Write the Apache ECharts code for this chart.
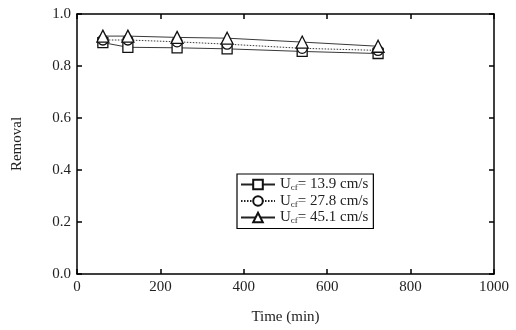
<!DOCTYPE html>
<html><head><meta charset="utf-8">
<script src="https://cdn.jsdelivr.net/npm/echarts@6/dist/echarts.min.js"></script>
<style>html,body{margin:0;padding:0;background:#fff}#c{width:516px;height:330px}</style>
</head><body><div id="c"></div>
<script>
const time = [62, 122, 240, 360, 540, 722];
const u139 = [0.89, 0.872, 0.870, 0.866, 0.856, 0.848];
const u278 = [0.900, 0.900, 0.893, 0.884, 0.868, 0.860];
const u451 = [0.915, 0.915, 0.910, 0.907, 0.892, 0.876];
const seriesNames = ['13.9', '27.8', '45.1'];
const xTicks = [0, 200, 400, 600, 800, 1000];
const yTicks = [0.0, 0.2, 0.4, 0.6, 0.8, 1.0];

const font = 'Liberation Serif';
const chart = echarts.init(document.getElementById('c'));
function mk(name, vals, symbol, type) {
  return {
    name: name, type: 'line', xAxisIndex: 0, yAxisIndex: 0,
    data: time.map((t, i) => [t, vals[i]]),
    symbol: symbol, symbolSize: symbol === 'triangle' ? 12 : 10,
    showAllSymbol: true,
    lineStyle: { color: '#222', width: 0.9, type: type },
    itemStyle: { color: '#fff', borderColor: '#111', borderWidth: 1.3 },
    emphasis: { disabled: true }, animation: false
  };
}
function axisCommon() {
  return {
    axisLine: { onZero: false, lineStyle: { color: '#000', width: 1.5 } },
    axisTick: { inside: true, length: 5, lineStyle: { color: '#000', width: 1.5 } },
    splitLine: { show: false }
  };
}
chart.setOption({
  animation: false,
  grid: { left: 77, right: 22, top: 14, bottom: 54 },
  xAxis: [
    Object.assign({ type: 'value', min: 0, max: 1000, interval: 200, position: 'bottom',
      name: 'Time (min)', nameLocation: 'middle', nameGap: 36,
      nameTextStyle: { fontFamily: font, fontSize: 15, color: '#222' },
      axisLabel: { fontFamily: font, fontSize: 15, color: '#222', margin: 6,
        formatter: v => xTicks.includes(v) ? String(v) : '' } }, axisCommon()),
    Object.assign({ type: 'value', min: 0, max: 1000, interval: 200, position: 'top',
      axisLabel: { show: false } }, axisCommon())
  ],
  yAxis: [
    Object.assign({ type: 'value', min: 0, max: 1.0, interval: 0.2, position: 'left',
      name: 'Removal', nameLocation: 'middle', nameGap: 52, nameRotate: 90,
      nameTextStyle: { fontFamily: font, fontSize: 15, color: '#222' },
      axisLabel: { fontFamily: font, fontSize: 15, color: '#222', margin: 6,
        formatter: v => { const t = yTicks.find(y => Math.abs(y - v) < 1e-9); return t === undefined ? '' : t.toFixed(1); } } }, axisCommon()),
    Object.assign({ type: 'value', min: 0, max: 1.0, interval: 0.2, position: 'right',
      axisLabel: { show: false } }, axisCommon())
  ],
  legend: {
    orient: 'vertical', left: 237, top: 174,
    backgroundColor: '#fff', borderColor: '#000', borderWidth: 1.2,
    padding: [3, 5, 3, 3], itemGap: 1, itemWidth: 34, itemHeight: 12,
    data: seriesNames,
    formatter: n => '{a|U}{b|cf}{a|= ' + n + ' cm/s}',
    textStyle: {
      fontFamily: font, fontSize: 15, color: '#222',
      rich: {
        a: { fontFamily: font, fontSize: 15, color: '#222', height: 16, verticalAlign: 'middle' },
        b: { fontFamily: font, fontSize: 9, color: '#222', verticalAlign: 'bottom', padding: [7, 0, 0, 0] }
      }
    }
  },
  series: [
    mk(seriesNames[0], u139, 'rect', 'solid'),
    mk(seriesNames[1], u278, 'circle', [1.5, 1.5]),
    mk(seriesNames[2], u451, 'triangle', 'solid')
  ]
});
</script></body></html>
